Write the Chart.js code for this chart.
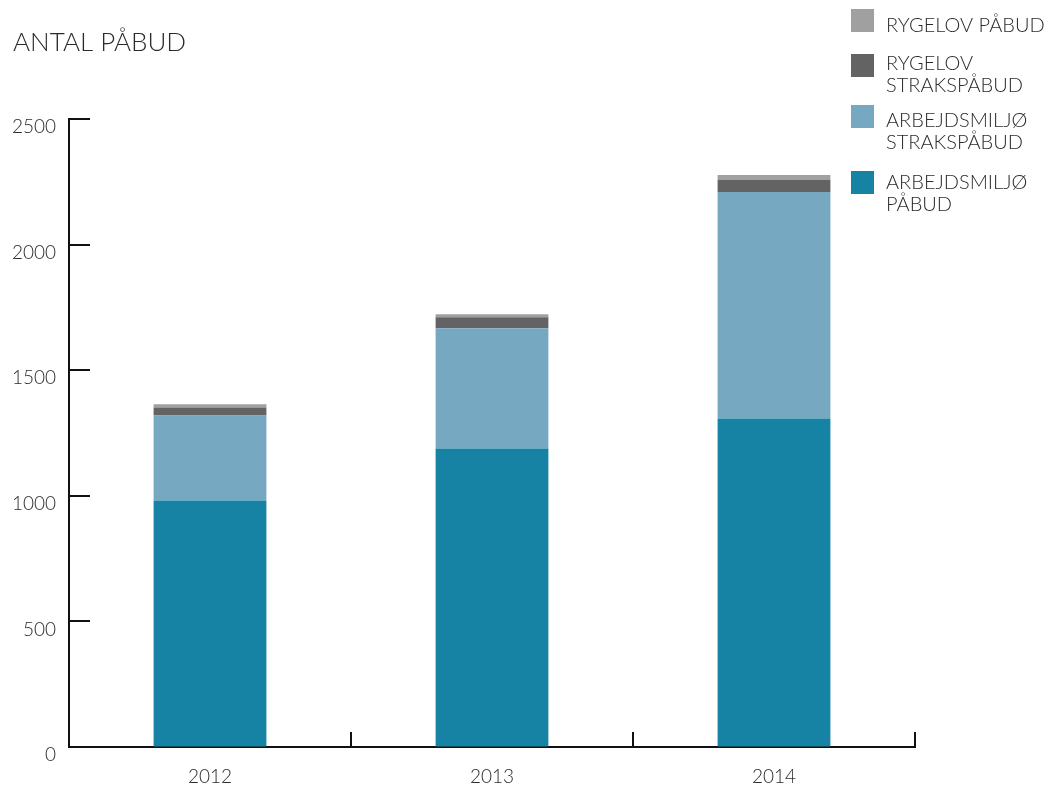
<!DOCTYPE html>
<html>
<head>
<meta charset="utf-8">
<title>Antal påbud</title>
<script src="https://cdn.jsdelivr.net/npm/chart.js@4.4.1/dist/chart.umd.min.js"></script>
<style>
    html, body { margin: 0; padding: 0; background: #fff; }
</style>
</head>
<body>
<canvas id="pabudChart" width="1051" height="785"></canvas>
<script>
// antal påbud pr. år
const years = ['2012', '2013', '2014']
const arbejdsmiljoPabud = [981, 1188, 1308]
const arbejdsmiljoStrakspabud = [339, 479, 901]
const rygelovStrakspabud = [32, 44, 48]
const rygelovPabud = [12, 12, 20]
const yTicks = [0, 500, 1000, 1500, 2000, 2500]

const textColor = '#2b2b2b'
const axisColor = '#111'
const fontFamily = 'Lato, "Open Sans", sans-serif'

// tegner titel, legend og de små tick-streger der vender ind i diagrammet
const decorations = {
    id: 'decorations',
    afterDraw(chart) {
        const ctx = chart.ctx
        const area = chart.chartArea
        const xScale = chart.scales.x
        const yScale = chart.scales.y
        ctx.save()

        ctx.strokeStyle = axisColor
        ctx.lineWidth = 2
        // y ticks peger mod højre
        yTicks.forEach(v => {
            if (v === 0) return
            const y = Math.round(yScale.getPixelForValue(v))
            ctx.beginPath()
            ctx.moveTo(area.left - 1, y)
            ctx.lineTo(area.left + 21, y)
            ctx.stroke()
        })
        // x ticks mellem årene, peger opad
        for (let i = 1; i <= years.length; i++) {
            const x = Math.round(xScale.getPixelForValue(i - 0.5))
            ctx.beginPath()
            ctx.moveTo(x, area.bottom + 1)
            ctx.lineTo(x, area.bottom - 15)
            ctx.stroke()
        }

        // titel
        ctx.fillStyle = textColor
        ctx.font = '300 26px ' + fontFamily
        ctx.textBaseline = 'alphabetic'
        ctx.textAlign = 'left'
        ctx.fillText('ANTAL PÅBUD', 13, 51)

        // legend (øverste serie først)
        const squareTops = [9, 54, 105, 171]
        const baselines = [32, 70, 127, 189]
        const datasets = chart.data.datasets.slice().reverse()
        ctx.font = '300 20px ' + fontFamily
        datasets.forEach((ds, i) => {
            ctx.fillStyle = ds.backgroundColor
            ctx.fillRect(851, squareTops[i], 23, 23)
            ctx.fillStyle = textColor
            ds.label.split('\n').forEach((line, k) => {
                ctx.fillText(line, 886, baselines[i] + k * 21.5)
            })
        })

        ctx.restore()
    }
}

var pabudChart = new Chart(
    document.getElementById('pabudChart'),
    {
        type: 'bar',

        data: {
            labels: years,

            datasets: [
                {
                    label: 'ARBEJDSMILJØ\nPÅBUD',
                    backgroundColor: '#1783a4',
                    data: arbejdsmiljoPabud
                },
                {
                    label: 'ARBEJDSMILJØ\nSTRAKSPÅBUD',
                    backgroundColor: '#77a8c1',
                    data: arbejdsmiljoStrakspabud
                },
                {
                    label: 'RYGELOV\nSTRAKSPÅBUD',
                    backgroundColor: '#636363',
                    data: rygelovStrakspabud
                },
                {
                    label: 'RYGELOV PÅBUD',
                    backgroundColor: '#a0a0a0',
                    data: rygelovPabud
                }
            ]
        },

        options: {
            responsive: false,
            animation: false,
            devicePixelRatio: 1,
            layout: {
                padding: { top: 119, right: 136, left: 0, bottom: 0 }
            },
            datasets: {
                bar: {
                    categoryPercentage: 1,
                    barPercentage: 0.4,
                    borderWidth: 0
                }
            },
            scales: {
                x: {
                    stacked: true,
                    grid: { display: true, drawOnChartArea: false, drawTicks: false },
                    border: { display: true, color: axisColor, width: 2 },
                    ticks: {
                        color: textColor,
                        padding: 18,
                        font: { family: fontFamily, size: 19, weight: 300 }
                    },
                    afterFit: scale => { scale.height = 38 }
                },
                y: {
                    stacked: true,
                    min: 0,
                    max: 2500,
                    grid: { display: true, drawOnChartArea: false, drawTicks: false },
                    border: { display: true, color: axisColor, width: 2 },
                    afterBuildTicks: scale => {
                        scale.ticks = yTicks.map(v => ({ value: v }))
                    },
                    ticks: {
                        color: textColor,
                        padding: 13,
                        labelOffset: 8,
                        font: { family: fontFamily, size: 19, weight: 300 },
                        callback: value => String(value)    // ingen tusindtalsseparator
                    },
                    afterFit: scale => { scale.width = 69 }
                }
            },
            plugins: {
                legend: { display: false },
                title: { display: false },
                tooltip: { enabled: true }
            }
        },

        plugins: [decorations]
    }
);
</script>
</body>
</html>
